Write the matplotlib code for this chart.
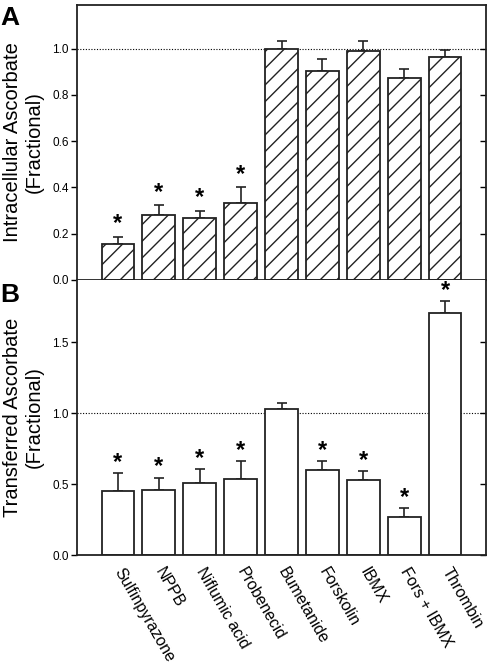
import numpy as np
import matplotlib.pyplot as plt

plt.rcParams['font.family'] = ['Liberation Sans', 'DejaVu Sans']
plt.rcParams['hatch.linewidth'] = 1.0

# данные
labels = ['Sulfinpyrazone', 'NPPB', 'Niflumic acid', 'Probenecid', 'Bumetanide',
          'Forskolin', 'IBMX', 'Fors + IBMX', 'Thrombin']
intra = [0.157, 0.281, 0.270, 0.332, 1.000, 0.902, 0.988, 0.872, 0.964]
intra_err = [0.030, 0.044, 0.030, 0.068, 0.033, 0.055, 0.044, 0.039, 0.032]
intra_sig = [True, True, True, True, False, False, False, False, False]

transf = [0.455, 0.462, 0.507, 0.535, 1.030, 0.602, 0.530, 0.270, 1.705]
transf_err = [0.120, 0.084, 0.100, 0.126, 0.040, 0.060, 0.065, 0.060, 0.085]
transf_sig = [True, True, True, True, False, True, True, True, True]

x = np.arange(len(labels))
W, H = 487, 667
fig = plt.figure(figsize=(W / 100, H / 100), dpi=100)

L, R = 77 / W, 486 / W
axA = fig.add_axes([L, 1 - 280 / H, R - L, (280 - 4.7) / H])
axB = fig.add_axes([L, 1 - 555 / H, R - L, (555 - 280) / H])

def draw(ax, vals, errs, sig, hatch, ylim, yticks, star_off):
    ax.bar(x, vals, width=0.8, color='white', edgecolor='#222222', linewidth=1.3,
           hatch=hatch, zorder=2)
    ax.errorbar(x, vals, yerr=[np.zeros(len(vals)), errs], fmt='none',
                ecolor='#222222', elinewidth=1.2, capsize=3.5, capthick=1.2, zorder=1)
    for xi, v, e, s in zip(x, vals, errs, sig):
        if s:
            ax.text(xi, v + e + star_off, '*', ha='center', va='center',
                    fontsize=17, fontweight='bold')
    ax.axhline(1.0, color='black', lw=0.8, ls=(0, (1, 1.5)), zorder=0)
    ax.set_xlim(-1, 9)
    ax.set_ylim(*ylim)
    ax.set_yticks(yticks)
    ax.set_yticklabels(['%.1f' % t for t in yticks], fontsize=8.5)
    ax.tick_params(axis='y', direction='out', length=4, width=1, pad=2)
    # правые засечки внутрь
    sec = ax.secondary_yaxis('right')
    sec.set_yticks(yticks)
    sec.set_yticklabels([])
    sec.tick_params(direction='in', length=4, width=1)
    sec.spines['right'].set_visible(False)
    for sp in ax.spines.values():
        sp.set_linewidth(1.3)
        sp.set_color('#222222')

draw(axA, intra, intra_err, intra_sig, '//', (0, 1.19), [0.0, 0.2, 0.4, 0.6, 0.8, 1.0], 0.055)
axA.set_xticks([])
axA.set_ylabel('Intracellular Ascorbate\n(Fractional)', fontsize=14.5, labelpad=6)

draw(axB, transf, transf_err, transf_sig, None, (0, 1.94), [0.0, 0.5, 1.0, 1.5], 0.075)
axB.spines['top'].set_visible(False)
axB.set_xticks(x)
axB.set_xticklabels(labels, rotation=-60, ha='left', va='center',
                    rotation_mode='anchor', fontsize=11.5)
axB.tick_params(axis='x', length=0, pad=10)
axB.set_ylabel('Transferred Ascorbate\n(Fractional)', fontsize=14.5, labelpad=6)

fig.text(0.0, 1 - 25 / H, 'A', fontsize=19, fontweight='bold', ha='left', va='baseline')
fig.text(0.0, 1 - 302 / H, 'B', fontsize=19, fontweight='bold', ha='left', va='baseline')

fig.savefig('out.png', dpi=100)
